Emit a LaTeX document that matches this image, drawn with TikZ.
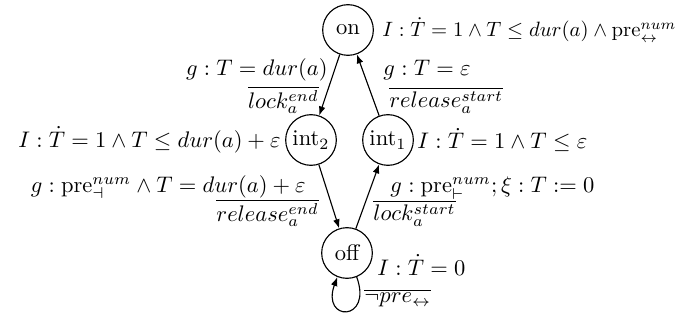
\documentclass[tikz,border=0pt]{standalone}
\usepackage{amsmath,amssymb}
\usetikzlibrary{arrows.meta}
\begin{document}
\begin{tikzpicture}[x=0.444pt,y=0.444pt,
  state/.style={draw,circle,minimum size=22.5pt,inner sep=0pt,line width=0.5pt},
  lbl/.style={inner sep=0pt},
  tr/.style={-{Latex[length=4pt,width=3pt]},line width=0.5pt}]
\useasboundingbox[fill=white] (0,0) rectangle (675,320);
\node[state] (on) at (348,290) {on};
\node[state] (int2) at (311,180) {int$_2$};
\node[state] (int1) at (388,180) {int$_1$};
\node[state] (off) at (347,67) {off};

\draw[tr] (on) -- (int2);
\draw[tr] (int1) -- (on);
\draw[tr] (int2) -- (off);
\draw[tr] (off) -- (int1);
\draw[tr] (off.-68) .. controls +(-70:48) and +(-110:48) .. (off.-112);

\node[lbl,anchor=west] (Ion) at (382,290) {\scalebox{0.92}{$I : \dot{T} = 1 \land T \leq dur(a) \land \mathrm{pre}^{num}_{\leftrightarrow}$}};
\node[lbl,anchor=east] (g1) at (328,250) {$g : T = dur(a)$};
\node[lbl,anchor=east] (a1) at (319,220) {$\overline{lock_a^{end}}$};
\node[lbl,anchor=west] (g2) at (383,250) {$g : T = \varepsilon$};
\node[lbl,anchor=west] (a2) at (389,220) {$\overline{release_a^{start}}$};
\node[lbl,anchor=east] (Iint2) at (281,180) {$I : \dot{T} = 1 \land T \leq dur(a) + \varepsilon$};
\node[lbl,anchor=west] (Iint1) at (417,180) {$I : \dot{T} = 1 \land T \leq \varepsilon$};
\node[lbl,anchor=east] (g3) at (306,133) {$g : \mathrm{pre}^{num}_{\dashv} \land T = dur(a) + \varepsilon$};
\node[lbl,anchor=east] (a3) at (319,107) {$\overline{release_a^{end}}$};
\node[lbl,anchor=west] (g4) at (390,132) {$g : \mathrm{pre}^{num}_{\vdash} ; \xi : T := 0$};
\node[lbl,anchor=west] (a4) at (373,107) {$\overline{lock_a^{start}}$};
\node[lbl,anchor=west] (Ioff) at (377,55) {$I : \dot{T} = 0$};
\node[lbl,anchor=west] (a5) at (364,22) {$\overline{\neg pre_{\leftrightarrow}}$};
\end{tikzpicture}
\end{document}
